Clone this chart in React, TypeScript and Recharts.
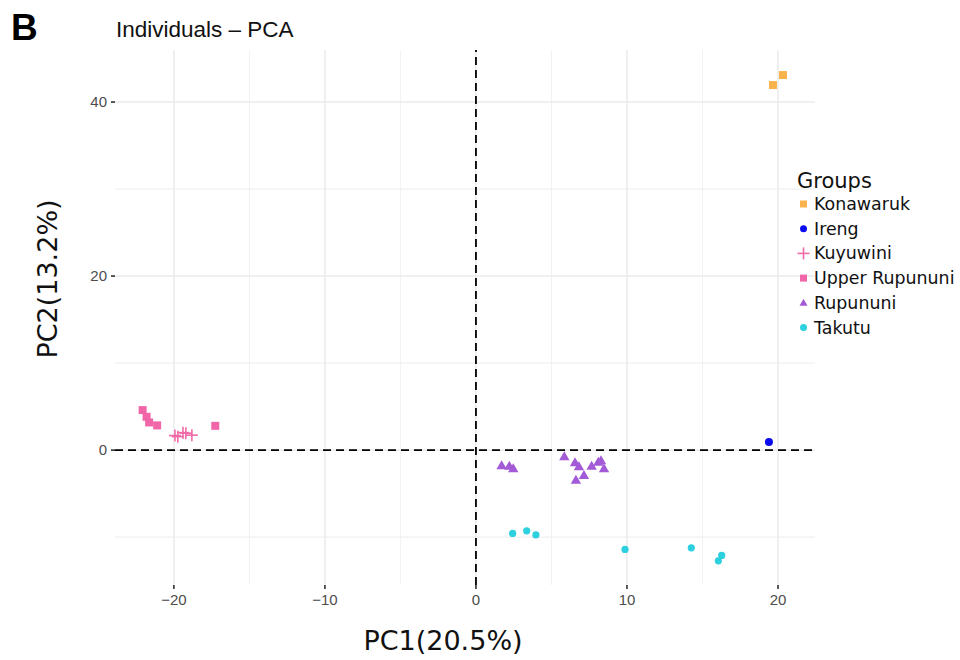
import React from "react";
import { ScatterChart, Scatter, XAxis, YAxis, ReferenceLine } from "recharts";

// PCA coordinates, one array per group
const konawaruk = [
  { x: 19.67, y: 41.95 },
  { x: 20.33, y: 43.1 },
];
const ireng = [{ x: 19.4, y: 0.92 }];
const kuyuwini = [
  { x: -19.93, y: 1.67 },
  { x: -19.74, y: 1.55 },
  { x: -19.4, y: 2.01 },
  { x: -19.21, y: 1.95 },
  { x: -18.81, y: 1.72 },
];
const upperRupununi = [
  { x: -22.07, y: 4.6 },
  { x: -21.81, y: 3.83 },
  { x: -21.64, y: 3.18 },
  { x: -21.11, y: 2.84 },
  { x: -17.26, y: 2.79 },
];
const rupununi = [
  { x: 1.7, y: -1.8 },
  { x: 2.21, y: -1.84 },
  { x: 2.47, y: -2.15 },
  { x: 5.85, y: -0.77 },
  { x: 6.56, y: -1.46 },
  { x: 6.82, y: -1.92 },
  { x: 7.15, y: -2.91 },
  { x: 6.62, y: -3.45 },
  { x: 7.66, y: -1.84 },
  { x: 8.1, y: -1.38 },
  { x: 8.28, y: -1.23 },
  { x: 8.48, y: -2.15 },
];
const takutu = [
  { x: 2.43, y: -9.57 },
  { x: 3.36, y: -9.28 },
  { x: 3.97, y: -9.74 },
  { x: 9.87, y: -11.41 },
  { x: 14.26, y: -11.23 },
  { x: 16.27, y: -12.1 },
  { x: 16.05, y: -12.72 },
];

const xTicks = [-20, -10, 0, 10, 20];
const yTicks = [0, 20, 40];
const xMinor = [-15, -5, 5, 15];
const yMinor = [-10, 10, 30];

const groupNames = ["Konawaruk", "Ireng", "Kuyuwini", "Upper Rupununi", "Rupununi", "Takutu"];
const groupColors = ["#f9b24c", "#0b0bf0", "#f06aa8", "#f066a8", "#a25ad6", "#2cd0de"];
const groupShapes = ["square", "circle", "cross", "square", "triangle", "dot"];
const groupData = [konawaruk, ireng, kuyuwini, upperRupununi, rupununi, takutu];

const fmt = (v: number) => (v < 0 ? "\u2212" + Math.abs(v) : String(v));

function Marker({ kind, cx, cy, color }: { kind: string; cx: number; cy: number; color: string }) {
  if (kind === "square") return <rect x={cx - 4} y={cy - 4} width={8} height={8} fill={color} />;
  if (kind === "circle") return <circle cx={cx} cy={cy} r={4} fill={color} />;
  if (kind === "dot") return <circle cx={cx} cy={cy} r={3.6} fill={color} />;
  if (kind === "triangle")
    return <polygon points={`${cx},${cy - 5.5} ${cx + 5.2},${cy + 3.5} ${cx - 5.2},${cy + 3.5}`} fill={color} />;
  return (
    <g stroke={color} strokeWidth={1.6}>
      <line x1={cx - 6} y1={cy} x2={cx + 6} y2={cy} />
      <line x1={cx} y1={cy - 6} x2={cx} y2={cy + 6} />
    </g>
  );
}

const tickStyle = { fontSize: 15, fill: "#4d4d4d", fontFamily: "Liberation Sans, Arial, sans-serif" };

export default function App() {
  return (
    <div style={{ position: "absolute", left: 0, top: 0, width: 960, height: 660, background: "#fff" }}>
      <ScatterChart width={960} height={660} margin={{ top: 50, right: 145, bottom: 0, left: 0 }}>
        <XAxis
          type="number"
          dataKey="x"
          domain={[-23.9, 22.45]}
          ticks={xTicks}
          allowDataOverflow
          axisLine={false}
          tickLine={{ stroke: "#222", strokeWidth: 1.5 }}
          tickSize={4}
          tickMargin={5}
          tick={tickStyle}
          tickFormatter={fmt}
          height={75}
        />
        <YAxis
          type="number"
          dataKey="y"
          domain={[-15.5, 45.98]}
          ticks={yTicks}
          allowDataOverflow
          axisLine={false}
          tickLine={{ stroke: "#222", strokeWidth: 1.5 }}
          tickSize={4}
          tickMargin={4}
          tick={tickStyle}
          tickFormatter={fmt}
          width={115}
        />
        {xMinor.map((v) => (
          <ReferenceLine key={"xm" + v} x={v} stroke="#f2f2f2" strokeWidth={1} />
        ))}
        {yMinor.map((v) => (
          <ReferenceLine key={"ym" + v} y={v} stroke="#f0f0f0" strokeWidth={1.2} />
        ))}
        {xTicks.map((v) => (
          <ReferenceLine key={"xg" + v} x={v} stroke="#ebebeb" strokeWidth={1.5} />
        ))}
        {yTicks.map((v) => (
          <ReferenceLine key={"yg" + v} y={v} stroke="#ebebeb" strokeWidth={1.5} />
        ))}
        <ReferenceLine x={0} stroke="#000" strokeWidth={1.8} strokeDasharray="8 5" />
        <ReferenceLine y={0} stroke="#000" strokeWidth={1.8} strokeDasharray="8 5" />
        {groupData.map((d, i) => (
          <Scatter
            key={groupNames[i]}
            name={groupNames[i]}
            data={d}
            isAnimationActive={false}
            shape={(p: any) => <Marker kind={groupShapes[i]} cx={p.cx} cy={p.cy} color={groupColors[i]} />}
          />
        ))}
      </ScatterChart>
      <svg
        width={960}
        height={660}
        style={{ position: "absolute", left: 0, top: 0, pointerEvents: "none" }}
      >
        <text x={11} y={40} fontSize={37} fontWeight="bold" fontFamily="Liberation Sans, Arial, sans-serif">
          B
        </text>
        <text x={116} y={37} fontSize={22.5} fontFamily="Liberation Sans, Arial, sans-serif" fill="#111">
          Individuals – PCA
        </text>
        <text x={443} y={650} fontSize={27} textAnchor="middle" fontFamily="DejaVu Sans, sans-serif" fill="#111">
          PC1(20.5%)
        </text>
        <text
          x={0}
          y={0}
          transform="translate(57,279) rotate(-90)"
          fontSize={27}
          textAnchor="middle"
          fontFamily="DejaVu Sans, sans-serif"
          fill="#111"
        >
          PC2(13.2%)
        </text>
        <text x={797} y={188} fontSize={21} fontFamily="DejaVu Sans, sans-serif" fill="#111">
          Groups
        </text>
        {groupNames.map((n, i) => {
          const cy = 204 + i * 24.7;
          return (
            <g key={n}>
              {groupShapes[i] === "square" ? (
                <rect x={800} y={cy - 3.5} width={7} height={7} fill={groupColors[i]} />
              ) : groupShapes[i] === "triangle" ? (
                <polygon points={`803.5,${cy - 4} 807.5,${cy + 3} 799.5,${cy + 3}`} fill={groupColors[i]} />
              ) : groupShapes[i] === "cross" ? (
                <Marker kind="cross" cx={803.5} cy={cy} color={groupColors[i]} />
              ) : (
                <circle cx={803.5} cy={cy} r={3.5} fill={groupColors[i]} />
              )}
              <text x={814} y={cy + 6} fontSize={17.4} fontFamily="DejaVu Sans, sans-serif" fill="#111">
                {n}
              </text>
            </g>
          );
        })}
      </svg>
    </div>
  );
}
